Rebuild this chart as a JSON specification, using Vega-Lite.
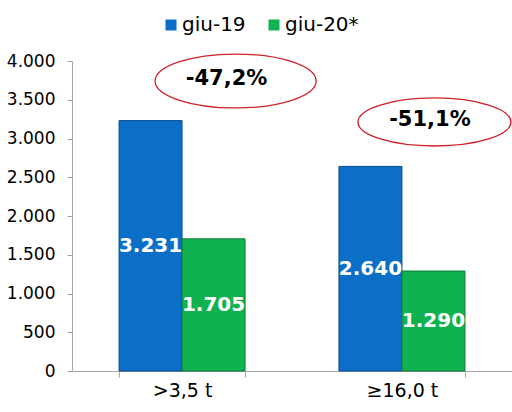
{
  "$schema": "https://vega.github.io/schema/vega-lite/v6.json",
  "autosize": "none",
  "width": 440,
  "height": 310,
  "padding": {"left": 72, "top": 61, "right": 0, "bottom": 41},
  "background": "white",
  "datasets": {
    "bars": [
      {"category": ">3,5 t", "series": "giu-19", "value": 3231},
      {"category": ">3,5 t", "series": "giu-20*", "value": 1705},
      {"category": "≥16,0 t", "series": "giu-19", "value": 2640},
      {"category": "≥16,0 t", "series": "giu-20*", "value": 1290}
    ],
    "notes": [
      {"category": ">3,5 t", "label": "-47,2%", "ellipse_y": 3742, "text_y": 3768},
      {"category": "≥16,0 t", "label": "-51,1%", "ellipse_y": 3213, "text_y": 3239}
    ]
  },
  "config": {
    "font": "DejaVu Sans",
    "view": {"stroke": null},
    "axisY": {
      "title": null, "values": [0, 500, 1000, 1500, 2000, 2500, 3000, 3500, 4000],
      "format": ",d", "grid": false, "labelFontSize": 17, "labelColor": "#000000",
      "labelOverlap": false, "labelBound": false, "labelFlush": false,
      "domainColor": "#A6A6A6", "tickColor": "#A6A6A6", "tickSize": 5, "labelPadding": 12
    },
    "locale": {"number": {"decimal": ",", "thousands": ".", "grouping": [3], "currency": ["", "€"]}}
  },
  "layer": [
    {
      "data": {"name": "bars"},
      "mark": {"type": "bar", "strokeWidth": 1},
      "encoding": {
        "x": {
          "field": "category", "type": "nominal", "sort": null,
          "scale": {"paddingInner": 0.427, "paddingOuter": 0.214},
          "axis": {
            "title": null, "labelAngle": 0, "labelFontSize": 19, "labelColor": "#000000",
            "domainColor": "#A6A6A6", "tickColor": "#A6A6A6", "tickSize": 6,
            "tickBand": "extent", "labelPadding": 4
          }
        },
        "xOffset": {"field": "series", "type": "nominal", "sort": null, "scale": {"paddingInner": 0, "paddingOuter": 0}},
        "y": {
          "field": "value", "type": "quantitative", "title": null,
          "scale": {"domain": [0, 4000], "nice": false},
          "axis": {"values": [0, 500, 1000, 1500, 2000, 2500, 3000, 3500, 4000], "format": ",d", "labelOverlap": false, "title": null}
        },
        "color": {
          "field": "series", "type": "nominal", "sort": null,
          "scale": {"domain": ["giu-19", "giu-20*"], "range": ["#0B6FC8", "#10B24F"]},
          "legend": {
            "title": null, "orient": "none", "direction": "horizontal",
            "legendX": 89, "legendY": -46, "symbolType": "square", "symbolSize": 121,
            "symbolStrokeWidth": 0, "labelFontSize": 20, "labelOffset": 1, "columnPadding": 18,
            "labelColor": "#000000"
          }
        },
        "stroke": {
          "field": "series", "type": "nominal", "sort": null,
          "scale": {"domain": ["giu-19", "giu-20*"], "range": ["#0A4E8E", "#0A7A38"]},
          "legend": null
        }
      }
    },
    {
      "data": {"name": "bars"},
      "transform": [{"calculate": "datum.value / 2", "as": "mid"}],
      "mark": {"type": "text", "color": "white", "fontWeight": "bold", "fontSize": 20, "baseline": "middle", "align": "center"},
      "encoding": {
        "x": {"field": "category", "type": "nominal", "sort": null},
        "xOffset": {"field": "series", "type": "nominal", "sort": null},
        "y": {"field": "mid", "type": "quantitative", "title": null,
          "axis": {"values": [0, 500, 1000, 1500, 2000, 2500, 3000, 3500, 4000], "format": ",d", "labelOverlap": false, "title": null}},
        "text": {"field": "value", "type": "quantitative", "format": ",d"}
      }
    },
    {
      "data": {"name": "notes"},
      "transform": [{"filter": "datum.label == '-47,2%'"}],
      "mark": {"type": "point", "filled": false, "stroke": "#D0202A", "strokeWidth": 1.3, "opacity": 1, "size": 25921,
        "shape": "M -1 0 A 1 0.335 0 1 1 1 0 A 1 0.335 0 1 1 -1 0 Z"},
      "encoding": {
        "x": {"field": "category", "type": "nominal", "sort": null, "bandPosition": 0.925},
        "y": {"field": "ellipse_y", "type": "quantitative", "title": null,
          "axis": {"values": [0, 500, 1000, 1500, 2000, 2500, 3000, 3500, 4000], "format": ",d", "labelOverlap": false, "title": null}}
      }
    },
    {
      "data": {"name": "notes"},
      "transform": [{"filter": "datum.label == '-51,1%'"}],
      "mark": {"type": "point", "filled": false, "stroke": "#D0202A", "strokeWidth": 1.3, "opacity": 1, "size": 23409,
        "shape": "M -1 0 A 1 0.314 0 1 1 1 0 A 1 0.314 0 1 1 -1 0 Z"},
      "encoding": {
        "x": {"field": "category", "type": "nominal", "sort": null, "bandPosition": 0.758},
        "y": {"field": "ellipse_y", "type": "quantitative", "title": null,
          "axis": {"values": [0, 500, 1000, 1500, 2000, 2500, 3000, 3500, 4000], "format": ",d", "labelOverlap": false, "title": null}}
      }
    },
    {
      "data": {"name": "notes"},
      "transform": [{"filter": "datum.label == '-47,2%'"}],
      "mark": {"type": "text", "fontWeight": "bold", "fontSize": 21, "color": "#000000", "baseline": "middle", "align": "center"},
      "encoding": {
        "x": {"field": "category", "type": "nominal", "sort": null, "bandPosition": 0.853},
        "y": {"field": "text_y", "type": "quantitative", "title": null,
          "axis": {"values": [0, 500, 1000, 1500, 2000, 2500, 3000, 3500, 4000], "format": ",d", "labelOverlap": false, "title": null}},
        "text": {"field": "label"}
      }
    },
    {
      "data": {"name": "notes"},
      "transform": [{"filter": "datum.label == '-51,1%'"}],
      "mark": {"type": "text", "fontWeight": "bold", "fontSize": 21, "color": "#000000", "baseline": "middle", "align": "center"},
      "encoding": {
        "x": {"field": "category", "type": "nominal", "sort": null, "bandPosition": 0.722},
        "y": {"field": "text_y", "type": "quantitative", "title": null,
          "axis": {"values": [0, 500, 1000, 1500, 2000, 2500, 3000, 3500, 4000], "format": ",d", "labelOverlap": false, "title": null}},
        "text": {"field": "label"}
      }
    }
  ]
}
